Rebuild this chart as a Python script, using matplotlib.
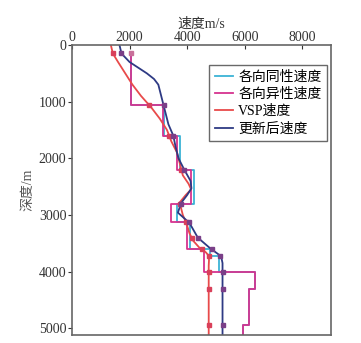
import matplotlib
matplotlib.use("Agg")
import matplotlib.pyplot as plt
import numpy as np

plt.rcParams['font.family'] = ['Liberation Serif', 'Noto Sans CJK SC']

# layer boundaries (m) and interval velocities (m/s)
layer_tops = [150, 1060, 1600, 2200, 2800, 3130, 3610, 3730, 4000, 4300, 4940]
layer_bots = [1060, 1600, 2200, 2800, 3130, 3610, 3730, 4000, 4300, 4940, 5120]
iso_vel = [2050, 3200, 3750, 4250, 3650, 4100, 4800, 5100, 6370, 6160, 5930]
aniso_vel = [2050, 3150, 3650, 4150, 3450, 4000, 4600, 4600, 6370, 6160, 5930]

# VSP velocity (smooth)
vsp_depth = [0, 150, 300, 500, 700, 900, 1100, 1300, 1500, 1700, 1900, 2100, 2300,
             2450, 2550, 2650, 2780, 2900, 3000, 3140, 3320, 3450, 3580, 3660, 3720,
             3800, 3900, 4000, 4300, 4940, 5120]
vsp_vel = [1350, 1420, 1600, 1850, 2100, 2400, 2750, 3050, 3300, 3450, 3650, 3750, 3850,
           4050, 4140, 3950, 3740, 3800, 3850, 3970, 4080, 4200, 4430, 4650, 4750,
           4760, 4750, 4750, 4750, 4750, 4750]

# updated velocity (smooth)
new_depth = [0, 150, 300, 400, 500, 600, 700, 800, 900, 1060, 1200, 1400, 1600, 1800,
             2000, 2200, 2400, 2530, 2650, 2790, 2960, 3140, 3400, 3580, 3730, 3850,
             4000, 4300, 4940, 5120]
new_vel = [1650, 1720, 2000, 2300, 2600, 2850, 3000, 3050, 3100, 3180, 3250, 3350, 3520,
           3600, 3700, 3900, 4120, 4150, 4000, 3790, 3680, 4080, 4370, 4780, 5180, 5230,
           5230, 5230, 5230, 5230]

marker_depths = [150, 1060, 1600, 2200, 2800, 3130, 3400, 3610, 3720, 4000, 4300, 4940]

C_ISO = '#3bb3d6'
C_ANI = '#d6338f'
C_VSP = '#e84a4a'
C_NEW = '#2e3a84'


def step_xy(tops, bots, vels):
    xs, ys = [], []
    for t, b, v in zip(tops, bots, vels):
        xs += [v, v]
        ys += [t, b]
    return xs, ys


fig = plt.figure(figsize=(3.61, 3.43), dpi=100)
fig.patch.set_facecolor('white')
ax = fig.add_axes([0.1994, 0.0233, 0.7176, 0.8455])

xi, yi = step_xy(layer_tops, layer_bots, iso_vel)
ax.plot(xi, yi, color=C_ISO, lw=1.3, label='各向同性速度')
xa, ya = step_xy(layer_tops, layer_bots, aniso_vel)
ax.plot(xa, ya, color=C_ANI, lw=1.3, label='各向异性速度')
ax.plot(vsp_vel, vsp_depth, color=C_VSP, lw=1.3, label='VSP速度')
ax.plot(new_vel, new_depth, color=C_NEW, lw=1.3, label='更新后速度')

# layer markers
md = np.array(marker_depths)
ax.plot(np.interp(md, vsp_depth, vsp_vel), md, 's', color='#d9405a', ms=3.2, ls='none')
ax.plot(np.interp(md, new_depth, new_vel), md, 's', color='#7a3f88', ms=3.2, ls='none')
ax.plot([aniso_vel[0]], [layer_tops[0]], 's', color='#c8709a', ms=3.2)

ax.set_xlim(0, 9000)
ax.set_ylim(5120, 0)
ax.xaxis.tick_top()
ax.xaxis.set_label_position('top')
ax.set_xticks([0, 2000, 4000, 6000, 8000])
ax.set_yticks([0, 1000, 2000, 3000, 4000, 5000])
ax.tick_params(axis='x', direction='in', length=3, labelsize=10, pad=1, colors='#333333')
ax.tick_params(axis='y', direction='out', length=3, labelsize=10, pad=1, colors='#333333')
for s in ax.spines.values():
    s.set_color('#666666')
    s.set_linewidth(1.2)

ax.set_xlabel('速度m/s', fontsize=10, labelpad=2, color='#333333')
ax.set_ylabel('深度/m', fontsize=10, labelpad=3, color='#555555')

leg = ax.legend(loc='upper right', bbox_to_anchor=(0.995, 0.942), borderaxespad=0.2,
                fontsize=10, frameon=True, fancybox=False, edgecolor='#444444',
                handlelength=1.3, handletextpad=0.4, borderpad=0.4, labelspacing=0.3)
leg.get_frame().set_linewidth(1.0)

fig.savefig('out.png', dpi=100)
